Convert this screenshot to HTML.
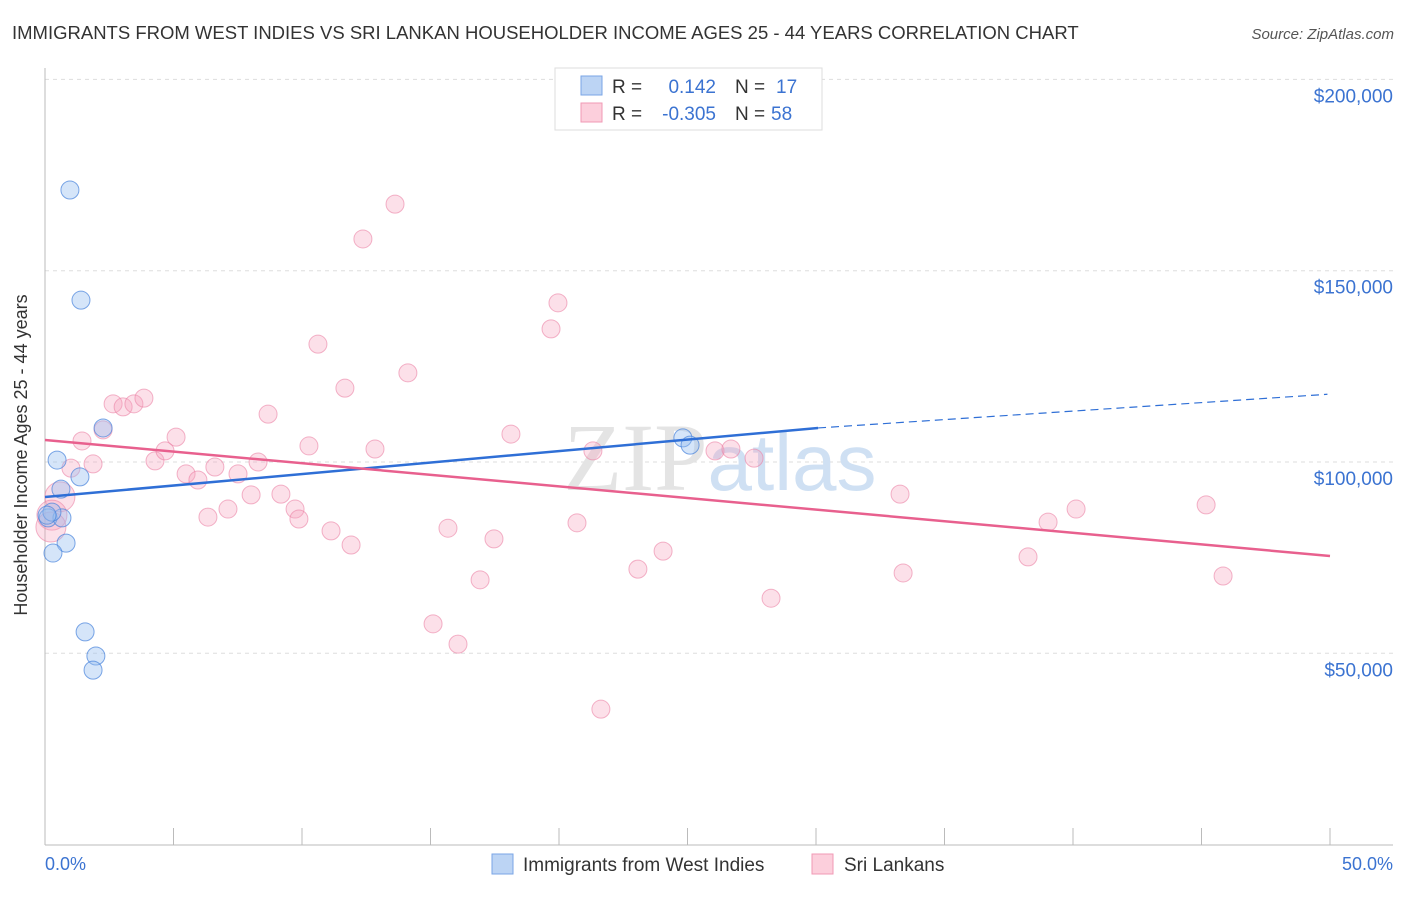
<!DOCTYPE html>
<html><head><meta charset="utf-8"><style>
body{margin:0;background:#fff;font-family:"Liberation Sans",sans-serif;}
</style></head><body>
<svg width="1406" height="892" xmlns="http://www.w3.org/2000/svg" font-family="Liberation Sans, sans-serif">
<text x="12" y="39" font-size="18.5" fill="#333">IMMIGRANTS FROM WEST INDIES VS SRI LANKAN HOUSEHOLDER INCOME AGES 25 - 44 YEARS CORRELATION CHART</text>
<text x="1394" y="39" font-size="15" fill="#555" text-anchor="end" font-style="italic">Source: ZipAtlas.com</text>
<g id="grid"></g>
<text x="720" y="490" font-size="96" fill="#e4e4e4" text-anchor="middle" font-family="Liberation Serif, serif">ZIP<tspan fill="#cfe0f3" font-family="Liberation Sans, sans-serif" font-size="80">atlas</tspan></text>
<line x1="45" y1="68" x2="45" y2="845" stroke="#bbb"/>
<line x1="45" y1="845" x2="1393" y2="845" stroke="#bbb"/>
<g id="ticks"></g>
<text x="27" y="455" font-size="18" fill="#333" text-anchor="middle" transform="rotate(-90 27 455)">Householder Income Ages 25 - 44 years</text>
<text x="45" y="870" font-size="18" fill="#3b73d1">0.0%</text>
<text x="1393" y="870" font-size="18" fill="#3b73d1" text-anchor="end">50.0%</text>
<g id="pts"></g>
<g id="lines"></g>
<g>
<rect x="555" y="68" width="267" height="62" fill="#fff" stroke="#ddd"/>
<rect x="581" y="76" width="21" height="19" fill="#bcd4f4" stroke="#7aa5e6"/>
<rect x="581" y="103" width="21" height="19" fill="#fccfdc" stroke="#f09ab5"/>
<text x="612" y="93" font-size="19" fill="#333">R =</text>
<text x="716" y="93" font-size="19" fill="#3b73d1" text-anchor="end">0.142</text>
<text x="735" y="93" font-size="19" fill="#333">N =</text>
<text x="776" y="93" font-size="19" fill="#3b73d1">17</text>
<text x="612" y="120" font-size="19" fill="#333">R =</text>
<text x="716" y="120" font-size="19" fill="#3b73d1" text-anchor="end">-0.305</text>
<text x="735" y="120" font-size="19" fill="#333">N =</text>
<text x="771" y="120" font-size="19" fill="#3b73d1">58</text>
</g>
<g>
<rect x="492" y="854" width="21" height="20" fill="#bcd4f4" stroke="#7aa5e6"/>
<text x="523" y="871" font-size="19" fill="#333">Immigrants from West Indies</text>
<rect x="812" y="854" width="21" height="20" fill="#fccfdc" stroke="#f09ab5"/>
<text x="844" y="871" font-size="19" fill="#333">Sri Lankans</text>
</g>
</svg>
<script>
const yTicks=[50000,100000,150000,200000];
const yTickLabels=["$50,000","$100,000","$150,000","$200,000"];
const blueX=[0.97,1.40,0.47,0.62,1.36,2.26,0.12,0.66,0.27,0.82,0.31,1.56,1.98,1.87,24.82,25.10,0.08];
const blueY=[171.1,142.3,100.5,92.9,96.1,108.9,85.4,85.4,86.9,78.8,76.2,55.6,49.3,45.6,106.3,104.4,86.1];
const pinkX=[2.26,2.65,3.04,3.46,3.85,1.44,1.01,1.87,0.58,0.27,0.23,4.28,4.67,5.10,5.49,5.95,6.34,6.61,7.12,7.51,8.02,8.29,8.68,9.18,9.73,9.88,10.27,10.62,11.13,11.67,11.91,12.37,12.84,13.62,14.12,15.10,15.68,16.07,16.93,17.47,18.13,19.69,19.96,20.70,21.32,21.63,23.07,24.05,26.07,26.69,27.59,28.25,33.27,33.39,38.25,39.03,40.12,45.18,45.84];
const pinkY=[108.4,115.2,114.4,115.2,116.7,105.5,98.4,99.5,90.9,86.1,83.0,100.3,102.9,106.5,96.9,95.3,85.6,98.7,87.7,96.9,91.4,100.0,112.5,91.6,87.7,85.1,104.2,130.8,82.0,119.3,78.3,158.3,103.4,167.4,123.3,57.7,82.7,52.4,69.2,79.9,107.3,134.8,141.6,84.1,102.9,35.4,72.0,76.7,102.9,103.4,101.0,64.4,91.6,71.0,75.2,84.3,87.7,88.8,70.2];
const pinkBig=[0,0,0,0,0,0,0,0,1,1,1];
const blueTrend=[90.85,108.9,117.7];
const blueTrendX=[0,30.08,49.9];
const pinkTrend=[105.75,75.43];
const pinkTrendX=[0,50];
const NS="http://www.w3.org/2000/svg";
function xs(p){return 45+p*25.7;}
function ys(k){return 462-(k-100)*191.3/50;}
function mk(t,a,parent){const e=document.createElementNS(NS,t);for(const k in a)e.setAttribute(k,a[k]);parent.appendChild(e);return e;}
const grid=document.getElementById('grid');
yTicks.forEach((v,i)=>{const y=ys(v/1000);
const l=mk('line',{x1:45,x2:1393,y1:y,y2:y,stroke:'#ddd','stroke-dasharray':'4,4'},grid);


const t=mk('text',{x:1393,y:y+23,'font-size':19,fill:'#3b73d1','text-anchor':'end'},grid);
t.textContent=yTickLabels[i];

});
const tk=document.getElementById('ticks');
for(let i=1;i<=10;i++){const x=xs(i*5);
const l=mk('line',{x1:x,x2:x,y1:828,y2:845,stroke:'#bbb'},tk);

}
const pts=document.getElementById('pts');
pinkX.forEach((x,i)=>{const c=mk('circle',{cx:xs(x),cy:ys(pinkY[i]),r:pinkBig[i]?15:9,fill:'rgba(246,160,188,0.33)',stroke:'rgba(235,130,165,0.6)'},pts);

});
blueX.forEach((x,i)=>{const c=mk('circle',{cx:xs(x),cy:ys(blueY[i]),r:9,fill:'rgba(150,190,240,0.4)',stroke:'rgba(70,130,220,0.7)'},pts);

});
const lg=document.getElementById('lines');
let l=mk('line',{x1:xs(blueTrendX[0]),y1:ys(blueTrend[0]),x2:xs(blueTrendX[1]),y2:ys(blueTrend[1]),stroke:'#2f6fd6','stroke-width':2.5},lg);


l=mk('line',{x1:xs(blueTrendX[1]),y1:ys(blueTrend[1]),x2:xs(blueTrendX[2]),y2:ys(blueTrend[2]),stroke:'#2f6fd6','stroke-width':1.2,'stroke-dasharray':'8,5'},lg);


l=mk('line',{x1:xs(pinkTrendX[0]),y1:ys(pinkTrend[0]),x2:xs(pinkTrendX[1]),y2:ys(pinkTrend[1]),stroke:'#e8608e','stroke-width':2.5},lg);


</script>
</body></html>
